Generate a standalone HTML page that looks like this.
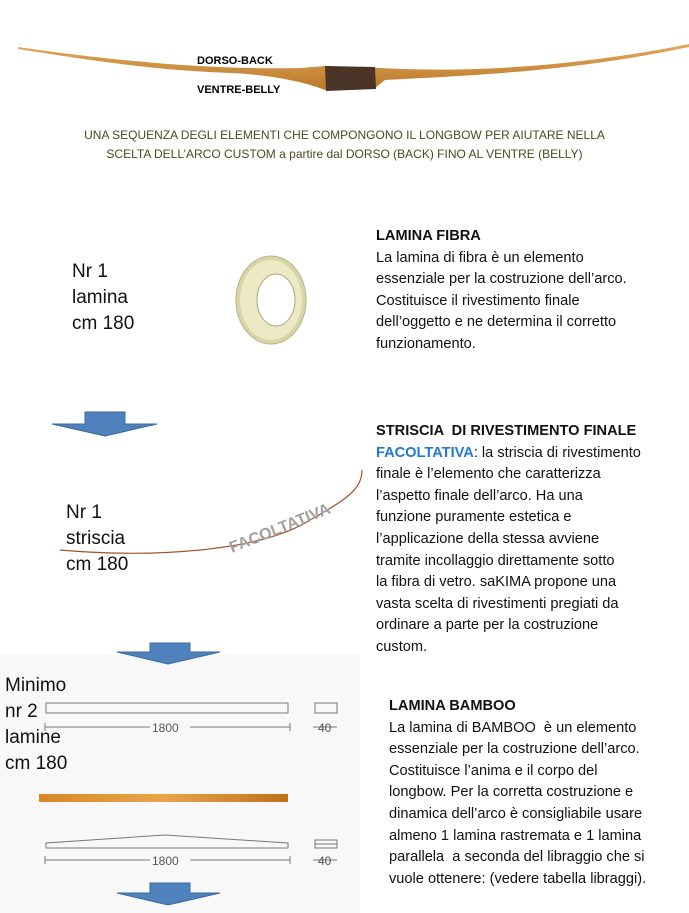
<!DOCTYPE html><html><head><meta charset="utf-8"><style>
body{margin:0;width:689px;height:913px;position:relative;background:#fff;font-family:"Liberation Sans",sans-serif;overflow:hidden}
.a{position:absolute;white-space:nowrap}
.r{font-size:14.6px;line-height:21.6px;color:#111}
.l{font-size:19px;line-height:26px;color:#111}
b{font-weight:bold}
</style></head><body>
<svg class="a" style="left:0;top:0" width="689" height="913">
<defs><linearGradient id="w" x1="0" x2="0" y1="0" y2="1"><stop offset="0" stop-color="#e2a95a"/><stop offset="1" stop-color="#b9772a"/></linearGradient>
<linearGradient id="o" x1="0" x2="1"><stop offset="0" stop-color="#d8872a"/><stop offset=".5" stop-color="#eaa44a"/><stop offset="1" stop-color="#c0701c"/></linearGradient></defs>
<path d="M18,47 C120,62 220,70 300,68 L325,66 L380,68 C450,72 560,70 689,44 L689,47 C560,74 450,76 385,80 L375,88 L325,90 C300,80 260,74 230,73 C150,70 90,60 18,49 Z" fill="url(#w)"/>
<path d="M325,66 L375,67 L376,89 L326,91 Z" fill="#4a3428"/>
<rect x="0" y="655" width="360" height="258" fill="#f8f8f8"/>
<path d="M85,412 H125 V424 H157 L105,436 L52,424 H85 Z" fill="#4f81bd" stroke="#3b6aa0"/>
<path d="M150,643 H190 V652 H220 L168,664 L117,652 H150 Z" fill="#4f81bd" stroke="#3b6aa0"/>
<path d="M150,883 H190 V893 H220 L168,905 L117,893 H150 Z" fill="#4f81bd" stroke="#3b6aa0"/>
<ellipse cx="271" cy="300" rx="35" ry="44" fill="#d8d5a8" stroke="#b8b48a"/>
<ellipse cx="271" cy="300" rx="31" ry="40" fill="#ece9c4"/>
<ellipse cx="276" cy="300" rx="19" ry="26" fill="#fff" stroke="#a9a680"/>
<path d="M60,550 C150,558 260,552 310,520 C345,500 362,490 362,470" fill="none" stroke="#a0552a" stroke-width="1.2"/>
<text x="232" y="553" transform="rotate(-22 232 553)" font-family="Liberation Sans" font-weight="bold" font-size="16" fill="#a0a0a0">FACOLTATIVA</text>
<g stroke="#777" fill="none" stroke-width="1">
<rect x="46" y="703" width="242" height="10"/><rect x="315" y="703" width="22" height="10"/>
<path d="M45,727 H150 M190,727 H290 M45,723 V731 M290,723 V731 M313,727 H337"/>
<path d="M46,843 L46,848 L288,848 L288,843 L165,835 Z"/><rect x="315" y="840" width="22" height="8"/><path d="M315,844 H337"/>
<path d="M45,860 H150 M190,860 H290 M45,856 V864 M290,856 V864 M313,860 H337"/>
</g>
<g font-family="Liberation Sans" font-size="12" fill="#555">
<text x="152" y="732">1800</text><text x="152" y="865">1800</text>
<text x="318" y="732">40</text><text x="318" y="865">40</text>
</g>
<rect x="39" y="794" width="249" height="8" fill="url(#o)"/>
</svg>
<div class="a" style="left:197px;top:55px;font-size:11px;font-weight:bold">DORSO-BACK</div>
<div class="a" style="left:197px;top:84px;font-size:11px;font-weight:bold">VENTRE-BELLY</div>
<div class="a" style="left:0;width:689px;text-align:center;top:126px;font-size:12px;line-height:19px;color:#4a4a20">UNA SEQUENZA DEGLI ELEMENTI CHE COMPONGONO IL LONGBOW PER AIUTARE NELLA<br>SCELTA DELL’ARCO CUSTOM a partire dal DORSO (BACK) FINO AL VENTRE (BELLY)</div>
<div class="a l" style="left:72px;top:259px">Nr 1<br>lamina<br>cm 180</div>
<div class="a l" style="left:66px;top:500px">Nr 1<br>striscia<br>cm 180</div>
<div class="a l" style="left:5px;top:673px">Minimo<br>nr 2<br>lamine<br>cm 180</div>
<div class="a r" style="left:376px;top:226px"><b>LAMINA FIBRA</b><br>La lamina di fibra è un elemento<br>essenziale per la costruzione dell’arco.<br>Costituisce il rivestimento finale<br>dell’oggetto e ne determina il corretto<br>funzionamento.</div>
<div class="a r" style="left:376px;top:421px"><b>STRISCIA &nbsp;DI RIVESTIMENTO FINALE</b><br><b style="color:#1f7ad0">FACOLTATIVA</b>: la striscia di rivestimento<br>finale è l’elemento che caratterizza<br>l’aspetto finale dell’arco. Ha una<br>funzione puramente estetica e<br>l’applicazione della stessa avviene<br>tramite incollaggio direttamente sotto<br>la fibra di vetro. saKIMA propone una<br>vasta scelta di rivestimenti pregiati da<br>ordinare a parte per la costruzione<br>custom.</div>
<div class="a r" style="left:389px;top:696px"><b>LAMINA BAMBOO</b><br>La lamina di BAMBOO &nbsp;è un elemento<br>essenziale per la costruzione dell’arco.<br>Costituisce l’anima e il corpo del<br>longbow. Per la corretta costruzione e<br>dinamica dell’arco è consigliabile usare<br>almeno 1 lamina rastremata e 1 lamina<br>parallela &nbsp;a seconda del libraggio che si<br>vuole ottenere: (vedere tabella libraggi).</div>
</body></html>
